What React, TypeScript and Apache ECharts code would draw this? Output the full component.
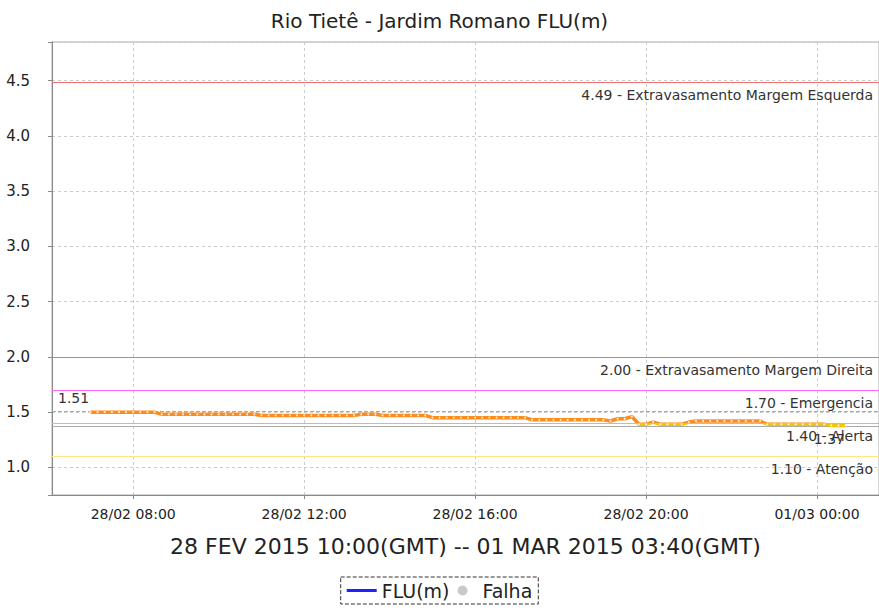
import React, { useEffect, useRef } from "react";
import * as echarts from "echarts";

// ---- data ----
const TITLE = "Rio Tietê - Jardim Romano FLU(m)";
const SUBTITLE = "28 FEV 2015 10:00(GMT) -- 01 MAR 2015 03:40(GMT)";
const START_TIME = new Date(2015, 1, 28, 7, 0).getTime(); // first reading (local)
const STEP_MIN = 10; // minutes between readings
const AXIS_MIN = new Date(2015, 1, 28, 6, 6).getTime();
const AXIS_MAX = new Date(2015, 2, 1, 1, 27).getTime();

// water level readings, every 10 minutes from 07:00 to 00:40
const fluValues = [
  1.50, 1.50, 1.50, 1.50, 1.50, 1.50, 1.50, 1.50, 1.50, 1.50,
  1.48, 1.48, 1.48, 1.48, 1.48, 1.48, 1.48, 1.48, 1.48, 1.48, 1.48, 1.48, 1.48, 1.48,
  1.47, 1.47, 1.47, 1.47, 1.47, 1.47, 1.47, 1.47, 1.47, 1.47, 1.47, 1.47, 1.47, 1.47,
  1.48, 1.48, 1.48,
  1.47, 1.47, 1.47, 1.47, 1.47, 1.47, 1.47,
  1.45, 1.45, 1.45, 1.45, 1.45, 1.45, 1.45, 1.45, 1.45, 1.45, 1.45, 1.45, 1.45, 1.45,
  1.43, 1.43, 1.43, 1.43, 1.43, 1.43, 1.43, 1.43, 1.43, 1.43, 1.43,
  1.42, 1.44, 1.44, 1.46, 1.39, 1.39, 1.41, 1.39, 1.39, 1.39, 1.39,
  1.41, 1.42, 1.42, 1.42, 1.42, 1.42, 1.42, 1.42, 1.42, 1.42, 1.42,
  1.39, 1.39, 1.39, 1.39, 1.39, 1.39, 1.39, 1.39, 1.39,
  1.38, 1.38, 1.38,
];

const limitValues = [4.49, 2.0, 1.7, 1.4, 1.1];
const limitNames = [
  "Extravasamento Margem Esquerda",
  "Extravasamento Margem Direita",
  "Emergencia",
  "Alerta",
  "Atenção",
];
const maxValue = 1.51;
const lastValue = 1.37;
const colorThreshold = 1.405; // below: yellow, above: orange

// ---- styles ----
const limitColors = ["#f47070", "#f47070", "#ff66ff", "#ffaa66", "#ffe680"];
const ORANGE = "#ff8c1a";
const YELLOW = "#f5c400";
const FONT = "'DejaVu Sans', sans-serif";

function pad(n: number) {
  return n < 10 ? "0" + n : "" + n;
}

export default function App() {
  const ref = useRef<HTMLDivElement>(null);

  useEffect(() => {
    document.body.style.margin = "0";
    if (!ref.current) return;
    const chart = echarts.init(ref.current, undefined, { renderer: "svg" });

    const fluData = fluValues.map((v, i) => [START_TIME + i * STEP_MIN * 60000, v]);

    const labelBase = { color: "#333", fontFamily: FONT, fontSize: 14 };

    const markData: any[] = limitValues.map((v, i) => ({
      name: limitNames[i],
      yAxis: v,
      lineStyle: { color: limitColors[i], type: "solid", width: 1 },
      label: {
        ...labelBase,
        show: true,
        position: "insideEndBottom",
        distance: 6,
        formatter: v.toFixed(2) + " - " + limitNames[i],
      },
    }));
    markData.push({
      name: "max",
      yAxis: maxValue,
      lineStyle: { color: "#aaa", type: "dashed", width: 1 },
      label: {
        ...labelBase,
        show: true,
        position: "insideStartTop",
        distance: 6,
        formatter: maxValue.toFixed(2),
      },
    });
    markData.push({
      name: "last",
      yAxis: lastValue,
      lineStyle: { color: "#aaa", type: "solid", width: 1 },
      label: {
        ...labelBase,
        show: true,
        position: "insideEndBottom",
        distance: 6,
        padding: [0, 28, 0, 0],
        formatter: lastValue.toFixed(2),
      },
    });

    const baseOption: any = {
      animation: false,
      backgroundColor: "#fff",
      title: {
        text: TITLE,
        left: "center",
        top: 6,
        textStyle: { fontFamily: FONT, fontSize: 20, fontWeight: "normal", color: "#222" },
      },
      grid: {
        left: 52,
        right: 0,
        top: 42,
        bottom: 119,
        show: true,
        borderColor: "#aaa",
        borderWidth: 1,
        backgroundColor: "#fff",
      },
      legend: {
        left: "center",
        top: 577,
        data: [
          { name: "FLU(m)", icon: "path://M0,10 h30 v3 h-30 z" },
          { name: "Falha", icon: "circle" },
        ],
        itemWidth: 30,
        itemHeight: 10,
        itemGap: 8,
        borderColor: "#333",
        borderWidth: 1,
        borderType: "dashed",
        borderRadius: 0,
        padding: [4, 6],
        textStyle: { fontFamily: FONT, fontSize: 19, color: "#222" },
      },
      xAxis: {
        type: "time",
        min: AXIS_MIN,
        max: AXIS_MAX,
        splitNumber: 5,
        name: SUBTITLE,
        nameLocation: "middle",
        nameGap: 40,
        nameTextStyle: { fontFamily: FONT, fontSize: 22, color: "#222" },
        axisLine: { lineStyle: { color: "#888" } },
        axisTick: { show: true, length: 4, lineStyle: { color: "#888" } },
        axisLabel: {
          fontFamily: FONT,
          fontSize: 14,
          color: "#222",
          margin: 12,
          formatter: (val: number) => {
            const d = new Date(val);
            if (d.getMinutes() !== 0 || d.getHours() % 4 !== 0) return "";
            return pad(d.getDate()) + "/" + pad(d.getMonth() + 1) + " " + pad(d.getHours()) + ":" + pad(d.getMinutes());
          },
        },
        splitLine: { show: true, lineStyle: { color: "#ccc", type: [3, 3], width: 1 } },
      },
      yAxis: {
        type: "value",
        min: 0.75,
        max: 4.85,
        splitNumber: 8,
        axisLine: { show: true, lineStyle: { color: "#888" } },
        axisTick: { show: true, length: 4, lineStyle: { color: "#888" } },
        axisLabel: {
          fontFamily: FONT,
          fontSize: 15,
          color: "#222",
          margin: 22,
          formatter: (v: number) =>
            Math.abs(v * 2 - Math.round(v * 2)) < 1e-6 ? v.toFixed(1) : "",
        },
        splitLine: { show: true, lineStyle: { color: "#ccc", type: [3, 3], width: 1 } },
      },
      series: [
        {
          name: "FLU",
          type: "line",
          data: fluData,
          showSymbol: false,
          color: ORANGE,
          lineStyle: { width: 3.5, color: ORANGE },
          z: 5,
          markLine: {
            silent: true,
            symbol: ["none", "none"],
            data: markData,
          },
        },
        {
          name: "FLU-points",
          type: "scatter",
          data: fluData,
          symbolSize: 2,
          itemStyle: { color: "#fff", opacity: 0.85 },
          silent: true,
          z: 6,
        },
        { name: "FLU(m)", type: "line", data: [], color: "#2020ff", lineStyle: { width: 3 } },
        { name: "Falha", type: "scatter", data: [], color: "#bbbbbb" },
      ],
    };

    // first draw, then colour the line by value using the y axis scale
    chart.setOption(baseOption);
    const yThr = chart.convertToPixel({ yAxisIndex: 0 }, colorThreshold) as number;
    const yTop = chart.convertToPixel({ yAxisIndex: 0 }, 4.85) as number;
    const yBot = chart.convertToPixel({ yAxisIndex: 0 }, 0.75) as number;
    const f = (yThr - yTop) / (yBot - yTop);
    chart.setOption({
      series: [
        {
          name: "FLU",
          lineStyle: {
            width: 3.5,
            color: new echarts.graphic.LinearGradient(0, yTop, 0, yBot, [
              { offset: 0, color: ORANGE },
              { offset: f, color: ORANGE },
              { offset: f, color: YELLOW },
              { offset: 1, color: YELLOW },
            ], true),
          },
        },
      ],
    });

    return () => chart.dispose();
  }, []);

  return (
    <div
      ref={ref}
      style={{ position: "fixed", left: 0, top: 0, width: 879, height: 614 }}
    />
  );
}
